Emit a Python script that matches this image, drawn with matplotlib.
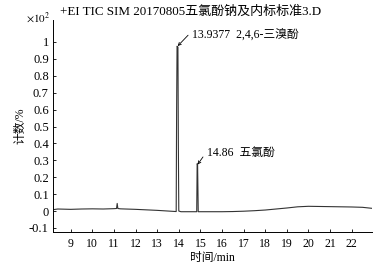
import matplotlib.pyplot as plt

plt.rcParams['font.family'] = ['Liberation Serif', 'Noto Sans CJK SC']
plt.rcParams['mathtext.fontset'] = 'stix'

# chromatogram trace (time in min, counts x10^2)
t = [8.18, 8.4, 9.0, 9.5, 10.0, 10.5, 11.0, 11.12, 11.15, 11.18, 11.3, 12.0, 12.5,
     13.0, 13.5, 13.88, 13.9, 13.92, 13.96, 13.98, 14.0, 14.1, 14.5, 14.83, 14.85,
     14.87, 14.9, 15.0, 15.5, 16.0, 16.5, 17.0, 17.5, 18.0, 18.5, 19.0, 19.5, 20.0,
     20.5, 21.0, 21.5, 22.0, 22.5, 22.94]
cnt = [0.008, 0.012, 0.010, 0.012, 0.013, 0.012, 0.014, 0.015, 0.045, 0.015, 0.013,
       0.010, 0.007, 0.004, 0.0, -0.003, 0.6, 0.975, 0.97, 0.4, 0.0, -0.004, -0.004,
       -0.004, 0.28, 0.275, -0.004, -0.004, -0.004, -0.004, -0.003, -0.001, 0.002,
       0.006, 0.012, 0.018, 0.025, 0.028, 0.027, 0.026, 0.025, 0.024, 0.022, 0.016]

peak_top = [(13.95, 0.976), (14.87, 0.275)]
arrow_from = [(14.43, 1.04), (15.12, 0.32)]
label_at = [(14.6, 1.04), (15.3, 0.345)]
peak_names = ['13.9377  2,4,6-三溴酚', '14.86  五氯酚']

fig = plt.figure(figsize=(3.91, 2.67), dpi=100)
ax = fig.add_axes([53/391, 35/267, 319/391, 212/267])
ax.plot(t, cnt, color='#333333', lw=0.8)

ax.set_xlim(8.18, 22.94)
ax.set_ylim(-0.124, 1.13)
ax.set_xticks(range(9, 23))
ax.set_yticks([-0.1, 0, 0.1, 0.2, 0.3, 0.4, 0.5, 0.6, 0.7, 0.8, 0.9, 1])
ax.set_yticklabels(['-0.1', '0', '0.1', '0.2', '0.3', '0.4', '0.5', '0.6', '0.7', '0.8', '0.9', '1'])
ax.tick_params(direction='in', length=2.5, width=0.6, pad=3)
ax.tick_params(axis='x', labelsize=8.5, pad=4)
ax.tick_params(axis='y', labelsize=9)
ax.spines['top'].set_visible(False)
ax.spines['right'].set_visible(False)
for s in ['left', 'bottom']:
    ax.spines[s].set_linewidth(0.7)

ax.set_xlabel('时间/min', fontsize=8.5, labelpad=2)
ax.set_ylabel('计数/%', fontsize=8.5, labelpad=2)
fig.text(26/391, 1 - 18/267, r'$\times10^2$', fontsize=8, va='center')
fig.text(60/391, 1 - 12/267, '+EI TIC SIM 20170805五氯酚钠及内标标准3.D', fontsize=9.4, va='center')

for top, start, pos, name in zip(peak_top, arrow_from, label_at, peak_names):
    ax.annotate('', xy=top, xytext=start,
                arrowprops=dict(arrowstyle='->', lw=0.6, color='black', shrinkA=0, shrinkB=0,
                                mutation_scale=5))
    ax.text(pos[0], pos[1], name, fontsize=8.5, va='center', ha='left')

fig.savefig('out.png', dpi=100)
